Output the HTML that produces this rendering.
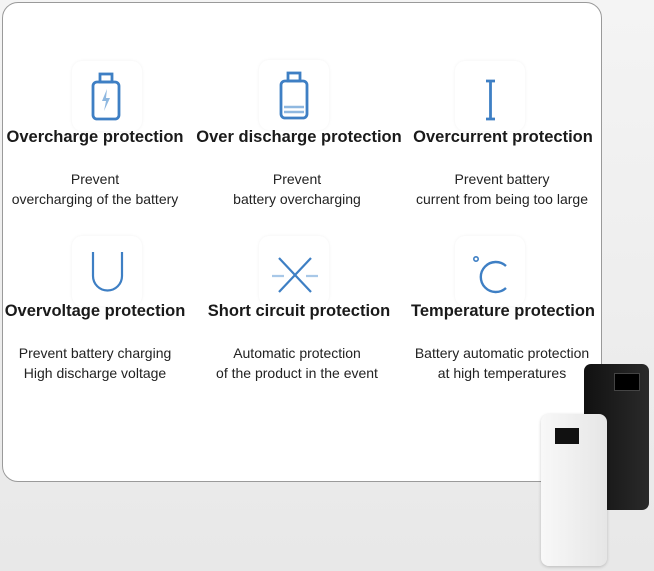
<!DOCTYPE html>
<html><head><meta charset="utf-8"><style>
html,body{margin:0;padding:0;width:654px;height:571px;overflow:hidden;background:linear-gradient(180deg,#f4f4f4,#e8e8e8);font-family:"Liberation Sans",sans-serif;}
.card{position:absolute;left:2px;top:2px;width:598px;height:478px;background:#fff;border:1px solid #9a9a9a;border-radius:16px;}
.ib{position:absolute;width:70px;height:70px;border-radius:10px;background:#fff;box-shadow:0 0 3px rgba(0,0,0,0.06);}
.t{position:absolute;width:210px;text-align:center;font-weight:bold;font-size:16.5px;color:#1a1a1a;white-space:nowrap;}
.d{position:absolute;width:220px;text-align:center;font-size:14px;line-height:19.5px;color:#222;white-space:nowrap;}
svg{position:absolute;}
</style></head><body>
<div class="card"></div>
<div class="ib" style="left:72px;top:61px"></div>
<div class="ib" style="left:259px;top:60px"></div>
<div class="ib" style="left:455px;top:61px"></div>
<div class="ib" style="left:72px;top:236px"></div>
<div class="ib" style="left:259px;top:236px"></div>
<div class="ib" style="left:455px;top:236px"></div>
<svg width="654" height="571" style="left:0;top:0">
<g fill="none" stroke="#3e7fc4" stroke-width="2.8">
<rect x="93" y="82" width="26" height="37" rx="4"/><rect x="100" y="74" width="12" height="8"/>
<rect x="281" y="81" width="26" height="37" rx="4"/><rect x="288" y="73" width="12" height="8"/>
<path d="M486 81h9M490.5 81v38M486 119h9"/>
<path d="M93 252v24a14.5 14.5 0 0 0 29 0v-24" stroke-width="2.2"/>
<path d="M279 258l32 34M311 258l-32 34" stroke-width="2.2"/>
<path d="M506 266A15 15 0 1 0 506 288" stroke-width="2.4"/>
</g>
<path d="M107 89l-5 12h4l-2 10 6-13h-4z" fill="#8fb8e0"/>
<path d="M284 107h20M284 112h20" stroke="#8fb8e0" stroke-width="2.5"/>
<path d="M272 276h12M306 276h12" stroke="#a8c8e8" stroke-width="2.2"/>
<circle cx="476" cy="259" r="2.2" fill="none" stroke="#3e7fc4" stroke-width="1.6"/>
</svg>
<div class="t" style="left:-10px;top:128px">Overcharge protection</div>
<div class="t" style="left:194px;top:128px">Over discharge protection</div>
<div class="t" style="left:398px;top:128px">Overcurrent protection</div>
<div class="d" style="left:-15px;top:170px">Prevent<br>overcharging of the battery</div>
<div class="d" style="left:187px;top:170px">Prevent<br>battery overcharging</div>
<div class="d" style="left:392px;top:170px">Prevent battery<br>current from being too large</div>
<div class="t" style="left:-10px;top:302px">Overvoltage protection</div>
<div class="t" style="left:194px;top:302px">Short circuit protection</div>
<div class="t" style="left:398px;top:302px">Temperature protection</div>
<div class="d" style="left:-15px;top:344px">Prevent battery charging<br>High discharge voltage</div>
<div class="d" style="left:187px;top:344px">Automatic protection<br>of the product in the event</div>
<div class="d" style="left:392px;top:344px">Battery automatic protection<br>at high temperatures</div>
<div style="position:absolute;left:584px;top:364px;width:65px;height:146px;background:linear-gradient(90deg,#111,#2a2a2a);border-radius:7px;"></div>
<div style="position:absolute;left:614px;top:373px;width:24px;height:16px;background:#000;border:1px solid #444;"></div>
<div style="position:absolute;left:541px;top:414px;width:66px;height:152px;background:linear-gradient(90deg,#f8f8f8,#e6e6e6);border-radius:8px;box-shadow:0 1px 3px rgba(0,0,0,0.2);"></div>
<div style="position:absolute;left:555px;top:428px;width:24px;height:16px;background:#111;"></div>
</body></html>
